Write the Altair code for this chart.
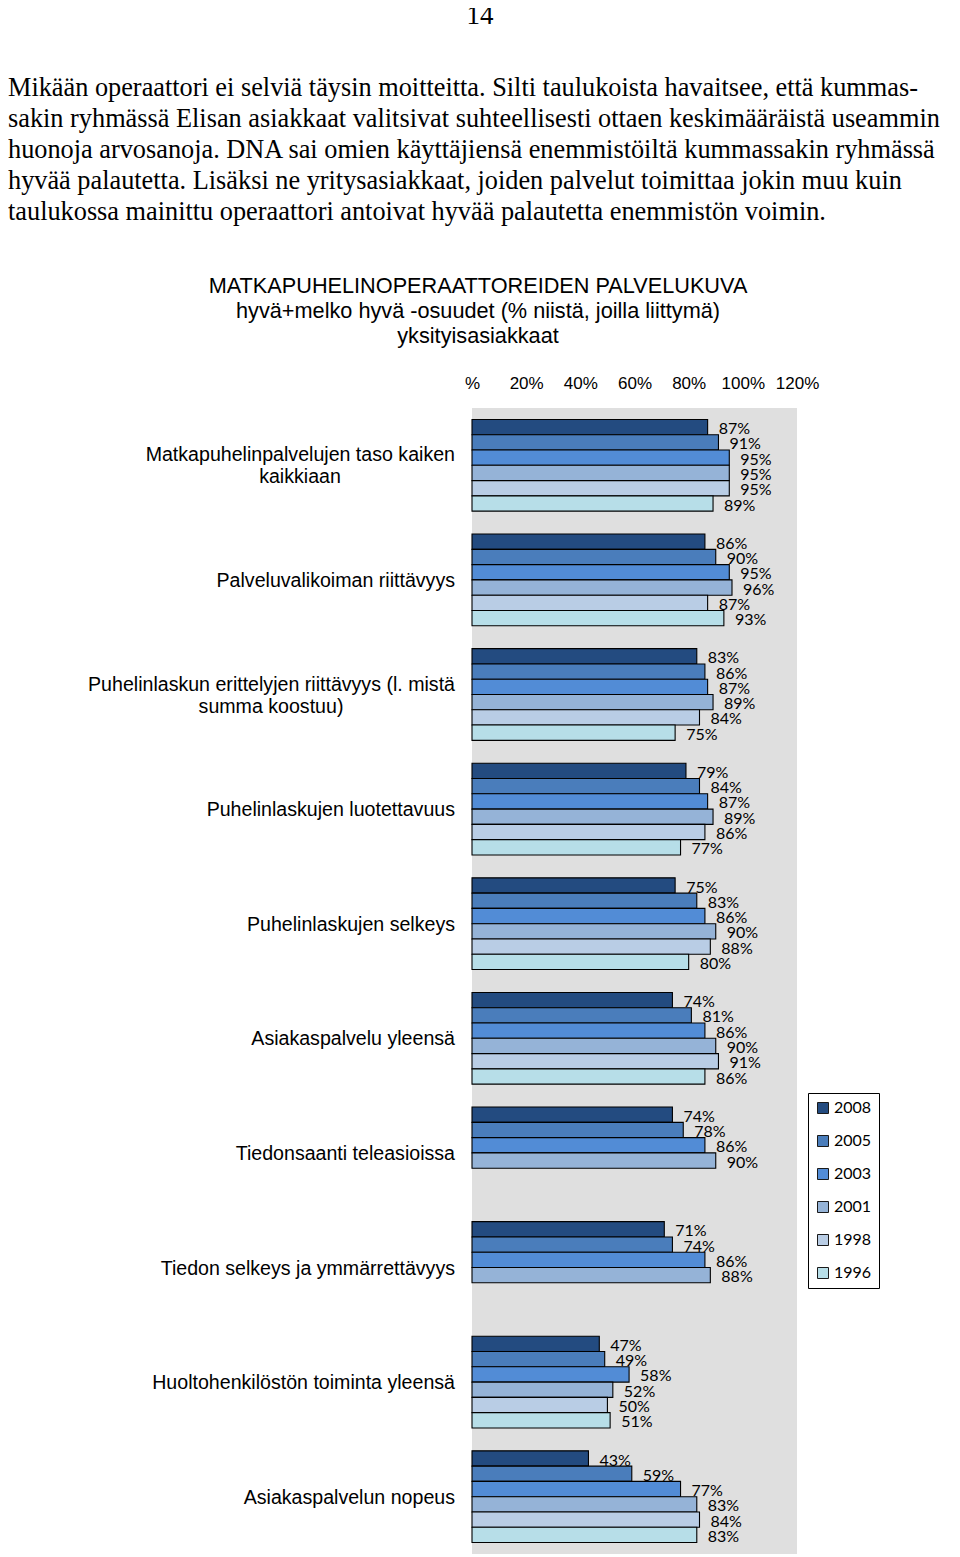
import altair as alt
import pandas as pd

categories = [
    "Matkapuhelinpalvelujen taso kaiken kaikkiaan",
    "Palveluvalikoiman riittävyys",
    "Puhelinlaskun erittelyjen riittävyys (l. mistä summa koostuu)",
    "Puhelinlaskujen luotettavuus",
    "Puhelinlaskujen selkeys",
    "Asiakaspalvelu yleensä",
    "Tiedonsaanti teleasioissa",
    "Tiedon selkeys ja ymmärrettävyys",
    "Huoltohenkilöstön toiminta yleensä",
    "Asiakaspalvelun nopeus",
]
label_line1 = [
    "Matkapuhelinpalvelujen taso kaiken",
    "Palveluvalikoiman riittävyys",
    "Puhelinlaskun erittelyjen riittävyys (l. mistä",
    "Puhelinlaskujen luotettavuus",
    "Puhelinlaskujen selkeys",
    "Asiakaspalvelu yleensä",
    "Tiedonsaanti teleasioissa",
    "Tiedon selkeys ja ymmärrettävyys",
    "Huoltohenkilöstön toiminta yleensä",
    "Asiakaspalvelun nopeus",
]
label_line2 = ["kaikkiaan", "", "summa koostuu)", "", "", "", "", "", "", ""]

years = ["2008", "2005", "2003", "2001", "1998", "1996"]
v2008 = [87, 86, 83, 79, 75, 74, 74, 71, 47, 43]
v2005 = [91, 90, 86, 84, 83, 81, 78, 74, 49, 59]
v2003 = [95, 95, 87, 87, 86, 86, 86, 86, 58, 77]
v2001 = [95, 96, 89, 89, 90, 90, 90, 88, 52, 83]
v1998 = [95, 87, 84, 86, 88, 91, None, None, 50, 84]
v1996 = [89, 93, 75, 77, 80, 86, None, None, 51, 83]
colors = ["#234b80", "#4a7dbb", "#528cd6", "#95b3d7", "#b9cde5", "#b7dee8"]

x_ticks = [0, 20, 40, 60, 80, 100, 120]

page_number = "14"
paragraph = [
    "Mikään operaattori ei selviä täysin moitteitta. Silti taulukoista havaitsee, että kummas-",
    "sakin ryhmässä Elisan asiakkaat valitsivat suhteellisesti ottaen keskimääräistä useammin",
    "huonoja arvosanoja. DNA sai omien käyttäjiensä enemmistöiltä kummassakin ryhmässä",
    "hyvää palautetta. Lisäksi ne yritysasiakkaat, joiden palvelut toimittaa jokin muu kuin",
    "taulukossa mainittu operaattori antoivat hyvää palautetta enemmistön voimin.",
]
title_lines = [
    "MATKAPUHELINOPERAATTOREIDEN PALVELUKUVA",
    "hyvä+melko hyvä -osuudet (% niistä, joilla liittymä)",
    "yksityisasiakkaat",
]

rows = []
for series, yr in zip([v2008, v2005, v2003, v2001, v1998, v1996], years):
    for cat, v in zip(categories, series):
        if v is not None:
            rows.append({"cat": cat, "year": yr, "value": v, "label": f"{v}%"})
df = pd.DataFrame(rows)

cat_df = pd.DataFrame({"cat": categories, "l1": label_line1, "l2": label_line2})

y_enc = alt.Y("cat:N", sort=categories, axis=None,
              scale=alt.Scale(domain=categories, paddingInner=0.2, paddingOuter=0.1))
yoff_enc = alt.YOffset("year:N", sort=years,
                       scale=alt.Scale(domain=years, paddingInner=0, paddingOuter=0))

x_enc = alt.X(
    "value:Q",
    scale=alt.Scale(domain=[0, 120], nice=False),
    axis=alt.Axis(
        orient="top", values=x_ticks, title=None, grid=False, domain=False,
        ticks=False, tickSize=0, labelPadding=16, labelFlush=False,
        labelFont="Liberation Sans", labelFontSize=17, labelColor="black",
        labelExpr="datum.value == 0 ? '%' : datum.value + '%'",
    ),
)

bars = alt.Chart(df).mark_bar(stroke="black", strokeWidth=1.1).encode(
    x=x_enc,
    y=y_enc,
    yOffset=yoff_enc,
    color=alt.Color(
        "year:N",
        scale=alt.Scale(domain=years, range=colors),
        legend=alt.Legend(
            title=None, orient="none", legendX=336, legendY=685,
            symbolType="square", symbolSize=121, symbolStrokeColor="#1a1a1a",
            symbolStrokeWidth=1, labelFont="Lato", labelFontSize=16,
            labelColor="black", labelOffset=3, rowPadding=17, padding=7,
            strokeColor="black", fillColor="white",
        ),
    ),
)

values = alt.Chart(df).mark_text(
    align="left", baseline="middle", dx=11, dy=2, font="Lato", fontSize=16, color="black"
).encode(x="value:Q", y=y_enc, yOffset=yoff_enc, text="label:N")

cat_font = dict(font="Liberation Sans", fontSize=19.6, color="black", baseline="middle")

cat_single = alt.Chart(cat_df).transform_filter("datum.l2 == ''").mark_text(
    align="right", dy=1, **cat_font
).encode(x=alt.value(-17), y=y_enc, text="l1:N")

cat_double = alt.Chart(cat_df).transform_filter("datum.l2 != ''").mark_text(
    align="right", dy=-10, **cat_font
).encode(x=alt.value(-17), y=y_enc, text="l1:N")

cat_second_a = alt.Chart(cat_df).transform_filter(
    alt.datum.cat == categories[0]).mark_text(align="center", dy=12, **cat_font
).encode(x=alt.value(-172), y=y_enc, text="l2:N")

cat_second_b = alt.Chart(cat_df).transform_filter(
    alt.datum.cat == categories[2]).mark_text(align="center", dy=12, **cat_font
).encode(x=alt.value(-201), y=y_enc, text="l2:N")

para = alt.Chart(pd.DataFrame({"t": ["\n".join(paragraph)]})).mark_text(
    align="left", baseline="alphabetic", font="Liberation Serif", fontSize=26.3,
    lineBreak="\n", lineHeight=31, color="black"
).encode(x=alt.value(-464), y=alt.value(-312), text="t:N")

pnum = alt.Chart(pd.DataFrame({"t": [page_number]})).mark_text(
    align="center", baseline="alphabetic", font="Liberation Serif", fontSize=27, color="black"
).encode(x=alt.value(8), y=alt.value(-384), text="t:N")

title = alt.Chart(pd.DataFrame({"t": ["\n".join(title_lines)]})).mark_text(
    align="center", baseline="alphabetic", font="Liberation Sans", fontSize=21.7,
    lineBreak="\n", lineHeight=25, color="black"
).encode(x=alt.value(6), y=alt.value(-115), text="t:N")

chart = alt.layer(
    bars, values, cat_single, cat_double, cat_second_a, cat_second_b, para, pnum, title
).properties(
    width=325, height=1146,
    padding={"left": 464, "top": 400, "right": 155, "bottom": 0},
    autosize=alt.AutoSizeParams(type="none"),
).configure(
    background="white",
    view=alt.ViewConfig(fill="#dfdfdf", stroke=None),
)

chart.save("out.html", embed_options={"renderer": "svg", "actions": False})
